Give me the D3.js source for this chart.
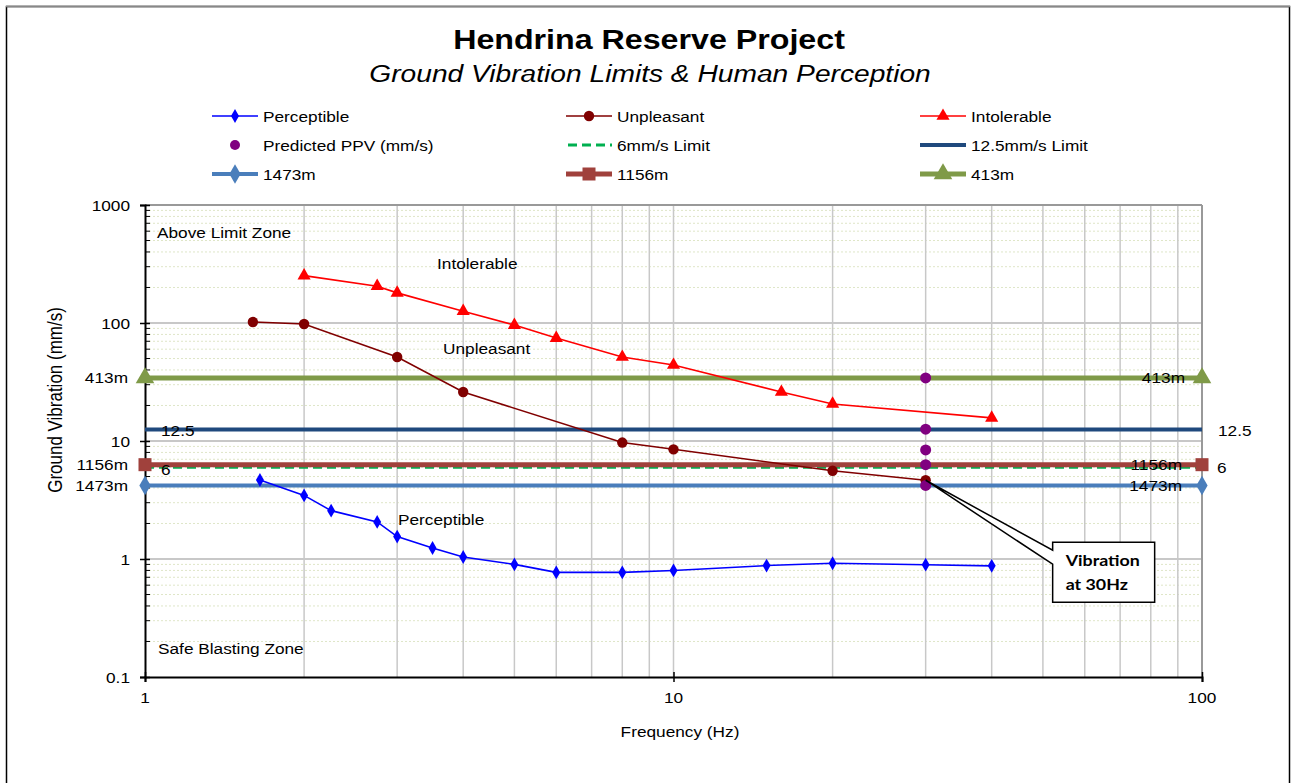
<!DOCTYPE html>
<html><head><meta charset="utf-8">
<script src="https://cdn.jsdelivr.net/npm/d3@7"></script>
<style>
body{margin:0;background:#fff;}
text{font-family:"Liberation Sans",Arial,sans-serif;fill:#000;}
</style></head>
<body>
<svg id="chart" width="1292" height="783"></svg>
<script>
// ---- data ----
const perceptibleF = [1.65, 2, 2.25, 2.75, 3, 3.5, 4, 5, 6, 8, 10, 15, 20, 30, 40];
const perceptibleV = [4.67, 3.46, 2.57, 2.06, 1.55, 1.24, 1.04, 0.90, 0.77, 0.77, 0.80, 0.88, 0.92, 0.895, 0.875];
const unpleasantF = [1.6, 2, 3, 4, 8, 10, 20, 30];
const unpleasantV = [102, 98, 51.5, 26, 9.7, 8.5, 5.6, 4.65];
const intolerableF = [2, 2.75, 3, 4, 5, 6, 8, 10, 16, 20, 40];
const intolerableV = [252, 205, 180, 126, 96, 74.5, 51.5, 44, 26, 20.6, 15.7];
const predictedF = [30, 30, 30, 30, 30];
const predictedV = [34.2, 12.6, 8.4, 6.3, 4.2];
const limit6 = 6;
const limit12 = 12.5;
const dist1473 = 4.2;
const dist1156 = 6.3;
const dist413 = 34.2;
const xDomain = [1, 100];
const yDomain = [0.1, 1000];
const xTicks = [1, 10, 100];
const yTicks = [0.1, 1, 10, 100, 1000];
const xTickLabels = ["1", "10", "100"];
const yTickLabels = ["0.1", "1", "10", "100", "1000"];
const legendLabels = ["Perceptible","Unpleasant","Intolerable","Predicted PPV (mm/s)","6mm/s Limit","12.5mm/s Limit","1473m","1156m","413m"];

const SX = 1.15; // horizontal text stretch seen in the reference
const svg = d3.select("#chart");
const L = 145, R = 1202, T = 205, B = 677;
const x = d3.scaleLog().domain(xDomain).range([L, R]);
const y = d3.scaleLog().domain(yDomain).range([B, T]);

function txt(px, py, str, size, anchor, extra){
  const t = svg.append("text").attr("transform",`translate(${px},${py}) scale(${SX},1)`)
    .attr("text-anchor", anchor || "start").style("font-size", size + "px").text(str);
  if (extra) extra(t);
  return t;
}

// outer frame
svg.append("rect").attr("x",6.5).attr("y",6.5).attr("width",1283).attr("height",800)
  .attr("fill","#fff").attr("stroke","#000").attr("stroke-width",1.5);
svg.append("line").attr("x1",6).attr("x2",1290).attr("y1",6.5).attr("y2",6.5).attr("stroke","#888").attr("stroke-width",1.5);

// titles
txt(649, 49, "Hendrina Reserve Project", 28, "middle", t=>t.style("font-weight","bold"));
txt(650, 82, "Ground Vibration Limits & Human Perception", 24.5, "middle", t=>t.style("font-style","italic"));

// grid
const g = svg.append("g");
const minorY = [];
for (let d = 0.1; d < 1000; d *= 10) for (let k = 2; k <= 9; k++) minorY.push(d * k);
g.selectAll(".minY").data(minorY).enter().append("line")
  .attr("x1",L).attr("x2",R).attr("y1",d=>y(d)).attr("y2",d=>y(d))
  .attr("stroke","#dfe6c8").attr("stroke-width",1).attr("stroke-dasharray","2,2");
const vx = x.ticks().filter(d => d > 1 && d < 100);
g.selectAll(".vx").data(vx).enter().append("line")
  .attr("x1",d=>x(d)).attr("x2",d=>x(d)).attr("y1",T).attr("y2",B)
  .attr("stroke","#c8c8c8").attr("stroke-width",1.5);
g.selectAll(".majY").data(yTicks.filter(d=>d>0.1)).enter().append("line")
  .attr("x1",L).attr("x2",R).attr("y1",d=>y(d)).attr("y2",d=>y(d))
  .attr("stroke","#c8c8c8").attr("stroke-width",2);
g.append("line").attr("x1",R).attr("x2",R).attr("y1",T).attr("y2",B).attr("stroke","#999").attr("stroke-width",2);
g.append("line").attr("x1",L).attr("x2",R).attr("y1",T).attr("y2",T).attr("stroke","#999").attr("stroke-width",2);

// axes
const yAxis = d3.axisLeft(y).tickValues(yTicks).tickFormat("").tickSize(5);
const ya = svg.append("g").attr("transform",`translate(${L},0)`).call(yAxis);
ya.select(".domain").attr("stroke","#000").attr("stroke-width",2);
ya.selectAll(".tick line").attr("x2",-5).attr("x1",5).attr("stroke","#000").attr("stroke-width",1.5);
ya.append("g").selectAll("line").data(minorY).enter().append("line")
  .attr("x1",0).attr("x2",5).attr("y1",d=>y(d)).attr("y2",d=>y(d)).attr("stroke","#000").attr("stroke-width",1);
yTicks.forEach((v,i)=> txt(130, y(v)+5.5, yTickLabels[i], 15, "end"));

const xAxis = d3.axisBottom(x).tickValues(xTicks).tickFormat("").tickSize(5);
const xa = svg.append("g").attr("transform",`translate(0,${B})`).call(xAxis);
xa.select(".domain").attr("stroke","#000").attr("stroke-width",2);
xa.selectAll(".tick line").attr("y1",-5).attr("y2",5).attr("stroke","#000").attr("stroke-width",1.5);
xTicks.forEach((v,i)=> txt(x(v), 703, xTickLabels[i], 15, "middle"));

svg.append("text").attr("transform",`translate(62,400) scale(${SX},1) rotate(-90)`).attr("text-anchor","middle")
  .style("font-size","17px").text("Ground Vibration (mm/s)");
txt(680, 737, "Frequency (Hz)", 15, "middle");

// zone labels
txt(157, 238, "Above Limit Zone", 15);
txt(158, 654, "Safe Blasting Zone", 15);

// symbols
const sym = (type, size) => d3.symbol().type(type).size(size)();
const col = {perc:"#0000ff", unp:"#800000", intol:"#ff0000", pred:"#800080", l6:"#00b050", l12:"#1f497d", d1473:"#4a7ebb", d1156:"#a0413c", d413:"#7f9a48"};

const plot = svg.append("g");
function hline(v, color, w, dash){
  plot.append("line").attr("x1",x(xDomain[0])).attr("x2",x(xDomain[1])).attr("y1",y(v)).attr("y2",y(v))
    .attr("stroke",color).attr("stroke-width",w).attr("stroke-dasharray",dash||null);
}
function ends(v, color, type, size){
  plot.selectAll(null).data(xDomain).enter().append("path")
    .attr("d", sym(type,size)).attr("fill",color)
    .attr("transform", d=>`translate(${x(d)},${y(v)})`);
}
hline(dist413, col.d413, 5);
ends(dist413, col.d413, d3.symbolTriangle, 150);
hline(limit12, col.l12, 4);
hline(limit6, col.l6, 3, "9,5");
hline(dist1156, col.d1156, 5);
plot.selectAll(null).data(xDomain).enter().append("rect")
  .attr("x",d=>x(d)-6.5).attr("y",y(dist1156)-6.5).attr("width",13).attr("height",13).attr("fill",col.d1156);
hline(dist1473, col.d1473, 4);
ends(dist1473, col.d1473, d3.symbolDiamond, 110);

function series(F, V, color, type, size){
  const pts = F.map((f,i)=>[x(f), y(V[i])]);
  plot.append("path").attr("d", d3.line()(pts)).attr("fill","none").attr("stroke",color).attr("stroke-width",1.6);
  plot.selectAll(null).data(pts).enter().append("path").attr("d", sym(type,size)).attr("fill",color)
    .attr("transform", d=>`translate(${d[0]},${d[1]})`);
}
series(perceptibleF, perceptibleV, col.perc, d3.symbolDiamond, 55);
series(intolerableF, intolerableV, col.intol, d3.symbolTriangle, 75);
series(unpleasantF, unpleasantV, col.unp, d3.symbolCircle, 85);
plot.selectAll(null).data(predictedF).enter().append("circle")
  .attr("cx",d=>x(d)).attr("cy",(d,i)=>y(predictedV[i])).attr("r",5.5).attr("fill",col.pred);

// series labels
txt(437, 269, "Intolerable", 15);
txt(443, 354, "Unpleasant", 15);
txt(398, 525, "Perceptible", 15);

// data labels
const lbl = (tx, ty, t, anchor) => txt(tx, ty + 5.5, t, 15, anchor);
lbl(128, y(dist413), "413m", "end");
lbl(128, y(dist1156), "1156m", "end");
lbl(128, y(dist1473), "1473m", "end");
lbl(1185, y(dist413), "413m", "end");
lbl(1182, y(dist1156), "1156m", "end");
lbl(1182, y(dist1473), "1473m", "end");
lbl(161, y(limit12)+1, "12.5", "start");
lbl(161, y(limit6)+2, "6", "start");
lbl(1218, y(limit12)+1, "12.5", "start");
lbl(1217, y(limit6), "6", "start");

// callout
const tipX = x(30), tipY = y(unpleasantV[unpleasantV.length-1]);
const bx = tipX + 127, by = tipY + 62, bw = 102, bh = 60;
svg.append("path").attr("d",
  `M${bx},${by} L${bx+bw},${by} L${bx+bw},${by+bh} L${bx},${by+bh} L${bx},${by+22} L${tipX},${tipY} L${bx},${by+8} Z`)
  .attr("fill","#fff").attr("stroke","#000").attr("stroke-width",1.5);
const cf = t => t.style("font-family","Lato, 'Open Sans', sans-serif").style("font-weight","bold");
txt(bx+13, by+24, "Vibration", 15.5, "start", cf);
txt(bx+13, by+48, "at 30Hz", 15.5, "start", cf);

// legend
const legX = [212, 566, 920], legY = [116, 145, 174];
const leg = svg.append("g");
legendLabels.forEach((t,i)=>{
  const cx = legX[i%3], cy = legY[Math.floor(i/3)];
  const gg = leg.append("g").attr("transform",`translate(${cx},${cy})`);
  const m = 23, len = 46;
  if (i===0){ gg.append("line").attr("x1",0).attr("x2",len).attr("stroke",col.perc).attr("stroke-width",1.6);
    gg.append("path").attr("d",sym(d3.symbolDiamond,55)).attr("fill",col.perc).attr("transform",`translate(${m},0)`); }
  if (i===1){ gg.append("line").attr("x1",0).attr("x2",len).attr("stroke",col.unp).attr("stroke-width",1.6);
    gg.append("path").attr("d",sym(d3.symbolCircle,85)).attr("fill",col.unp).attr("transform",`translate(${m},0)`); }
  if (i===2){ gg.append("line").attr("x1",0).attr("x2",len).attr("stroke",col.intol).attr("stroke-width",1.6);
    gg.append("path").attr("d",sym(d3.symbolTriangle,75)).attr("fill",col.intol).attr("transform",`translate(${m},0)`); }
  if (i===3){ gg.append("circle").attr("cx",m).attr("cy",0).attr("r",5).attr("fill",col.pred); }
  if (i===4){ gg.append("line").attr("x1",2).attr("x2",len).attr("stroke",col.l6).attr("stroke-width",3).attr("stroke-dasharray","9,5"); }
  if (i===5){ gg.append("line").attr("x1",0).attr("x2",len).attr("stroke",col.l12).attr("stroke-width",4); }
  if (i===6){ gg.append("line").attr("x1",0).attr("x2",len).attr("stroke",col.d1473).attr("stroke-width",4);
    gg.append("path").attr("d",sym(d3.symbolDiamond,110)).attr("fill",col.d1473).attr("transform",`translate(${m},0)`); }
  if (i===7){ gg.append("line").attr("x1",0).attr("x2",len).attr("stroke",col.d1156).attr("stroke-width",5);
    gg.append("rect").attr("x",m-6.5).attr("y",-6.5).attr("width",13).attr("height",13).attr("fill",col.d1156); }
  if (i===8){ gg.append("line").attr("x1",0).attr("x2",len).attr("stroke",col.d413).attr("stroke-width",5);
    gg.append("path").attr("d",sym(d3.symbolTriangle,150)).attr("fill",col.d413).attr("transform",`translate(${m},0)`); }
  txt(cx + 51, cy + 5.5, t, 15);
});
</script>
</body></html>
